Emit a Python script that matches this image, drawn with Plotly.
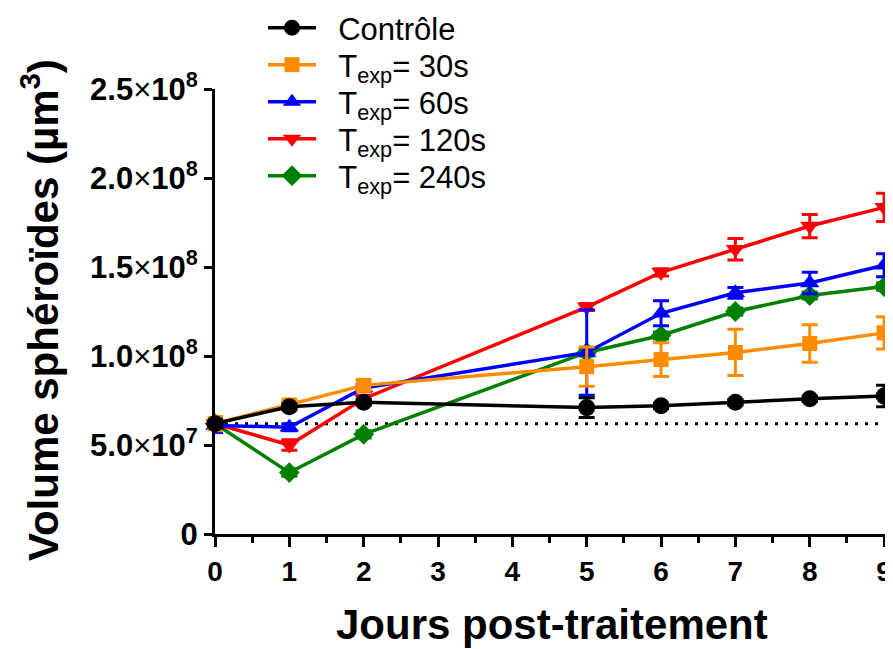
import plotly.graph_objects as go

# ---------------- data ----------------
x_days = [0, 1, 2, 5, 6, 7, 8, 9]

series_names = ["Contrôle", "T<sub>exp</sub>= 30s", "T<sub>exp</sub>= 60s",
                "T<sub>exp</sub>= 120s", "T<sub>exp</sub>= 240s"]

control = [6.2e7, 7.15e7, 7.4e7, 7.1e7, 7.2e7, 7.4e7, 7.6e7, 7.75e7]
control_err = [2.5e6, 1.5e6, 1.5e6, 5.5e6, 1.5e6, 1.5e6, 1.5e6, 6e6]

texp30 = [6.2e7, 7.25e7, 8.35e7, 9.4e7, 9.8e7, 1.02e8, 1.07e8, 1.13e8]
texp30_err = [4e6, 2.5e6, 3e6, 1.1e7, 9.5e6, 1.3e7, 1.05e7, 9e6]

texp60 = [6.1e7, 6.0e7, 8.2e7, 1.02e8, 1.24e8, 1.355e8, 1.41e8, 1.51e8]
texp60_err = [4e6, 2e6, 2e6, 2.4e7, 7e6, 3e6, 6e6, 6.5e6]

texp120 = [6.2e7, 5.0e7, 7.6e7, 1.275e8, 1.47e8, 1.6e8, 1.73e8, 1.835e8]
texp120_err = [2e6, 3e6, 2e6, 2e6, 2e6, 6e6, 6.5e6, 8e6]

texp240 = [6.2e7, 3.45e7, 5.6e7, 1.02e8, 1.115e8, 1.25e8, 1.34e8, 1.39e8]
texp240_err = [3e6, 2e6, 2e6, 2e6, 2e6, 2e6, 2e6, 2e6]

x_tickvals = [0, 1, 2, 3, 4, 5, 6, 7, 8, 9]
x_ticktext = ["0", "1", "2", "3", "4", "5", "6", "7", "8", "9"]
y_tickvals = [0, 5e7, 1e8, 1.5e8, 2e8, 2.5e8]
y_ticktext = ["<b>0</b>",
              "<b>5.0</b>×<b>10</b><sup><b>7</b></sup>",
              "<b>1.0</b>×<b>10</b><sup><b>8</b></sup>",
              "<b>1.5</b>×<b>10</b><sup><b>8</b></sup>",
              "<b>2.0</b>×<b>10</b><sup><b>8</b></sup>",
              "<b>2.5</b>×<b>10</b><sup><b>8</b></sup>"]

x_title = "Jours post-traitement"
y_title = "Volume sphéroïdes (µm<sup>3</sup>)"

# ---------------- styles ----------------
FONT = "Liberation Sans, Arial, sans-serif"
styles = [
    dict(color="#000000", symbol="circle", size=17),
    dict(color="#FF8C00", symbol="square", size=15),
    dict(color="#0000FF", symbol="triangle-up", size=17),
    dict(color="#FF0000", symbol="triangle-down", size=17),
    dict(color="#008000", symbol="diamond", size=16),
]
values = [control, texp30, texp60, texp120, texp240]
errors = [control_err, texp30_err, texp60_err, texp120_err, texp240_err]

# the page body adds an 8px margin, so the figure is laid out 8px smaller
OFF = 8
W, H = 893 - OFF, 649 - OFF
ML, MR, MT = 215 - OFF, 0, 89 - OFF
MB = H - (534 - OFF)
PW, PH = W - ML - MR, H - MT - MB

def py_to_paper(py):
    return (H - MB - (py - OFF)) / PH

def px_to_paper(px):
    return ((px - OFF) - ML) / PW

fig = go.Figure()

# dotted baseline at the initial volume
fig.add_trace(go.Scatter(
    x=[x_days[0], x_days[-1]], y=[control[0], control[0]],
    mode="lines", line=dict(color="black", width=3, dash="3px,7px"),
    showlegend=False, hoverinfo="skip", cliponaxis=False))

legend_py = [28, 65, 102, 139, 176]
order = [4, 3, 2, 1, 0]  # draw control last (on top)
NB = "\u00a0\u00a0"  # small gap between legend symbol and label
for i in order:
    st = styles[i]
    lname = "legend" if i == 0 else f"legend{i + 1}"
    fig.add_trace(go.Scatter(
        x=x_days, y=values[i], name=NB + series_names[i],
        mode="lines+markers",
        line=dict(color=st["color"], width=3.5),
        marker=dict(color=st["color"], symbol=st["symbol"], size=st["size"]),
        error_y=dict(type="data", array=errors[i], visible=True,
                     color=st["color"], thickness=3, width=8),
        cliponaxis=False, legend=lname))

legend_cfg = {}
for i in range(5):
    key = "legend" if i == 0 else f"legend{i + 1}"
    legend_cfg[key] = dict(
        x=px_to_paper(263), y=py_to_paper(legend_py[i]),
        xanchor="left", yanchor="middle", itemwidth=48,
        font=dict(family=FONT, size=31, color="black"),
        bgcolor="rgba(0,0,0,0)", tracegroupgap=0)

fig.update_layout(
    width=W, height=H,
    margin=dict(l=ML, r=MR, t=MT, b=MB, autoexpand=False),
    paper_bgcolor="white", plot_bgcolor="white",
    font=dict(family=FONT, color="black"),
    showlegend=True,
    **legend_cfg,
    xaxis=dict(
        range=[0, 9.12], showgrid=False, zeroline=False,
        showline=True, linecolor="black", linewidth=3,
        ticks="outside", ticklen=10, tickwidth=3, tickcolor="black",
        tickvals=x_tickvals, ticktext=[f"<b>{t}</b>" for t in x_ticktext],
        tickfont=dict(family=FONT, size=28, color="black"),
        minor=dict(dtick=0.5, tick0=0, ticks="outside", ticklen=6,
                   tickwidth=3, tickcolor="black"),
    ),
    yaxis=dict(
        range=[0, 2.5e8], showgrid=False, zeroline=False,
        showline=True, linecolor="black", linewidth=3,
        ticks="outside", ticklen=8, tickwidth=3, tickcolor="black",
        tickvals=y_tickvals, ticktext=y_ticktext,
        tickfont=dict(family=FONT, size=31, color="black"),
    ),
    annotations=[
        dict(text=f"<b>{x_title}</b>", xref="paper", yref="paper",
             x=px_to_paper(552), y=py_to_paper(624), xanchor="center",
             yanchor="middle", showarrow=False,
             font=dict(family=FONT, size=42, color="black")),
        dict(text=f"<b>{y_title}</b>", xref="paper", yref="paper",
             x=px_to_paper(40), y=py_to_paper(310), xanchor="center",
             yanchor="middle", showarrow=False, textangle=-90,
             font=dict(family=FONT, size=42, color="black")),
    ],
)

fig.write_html("out.html")
